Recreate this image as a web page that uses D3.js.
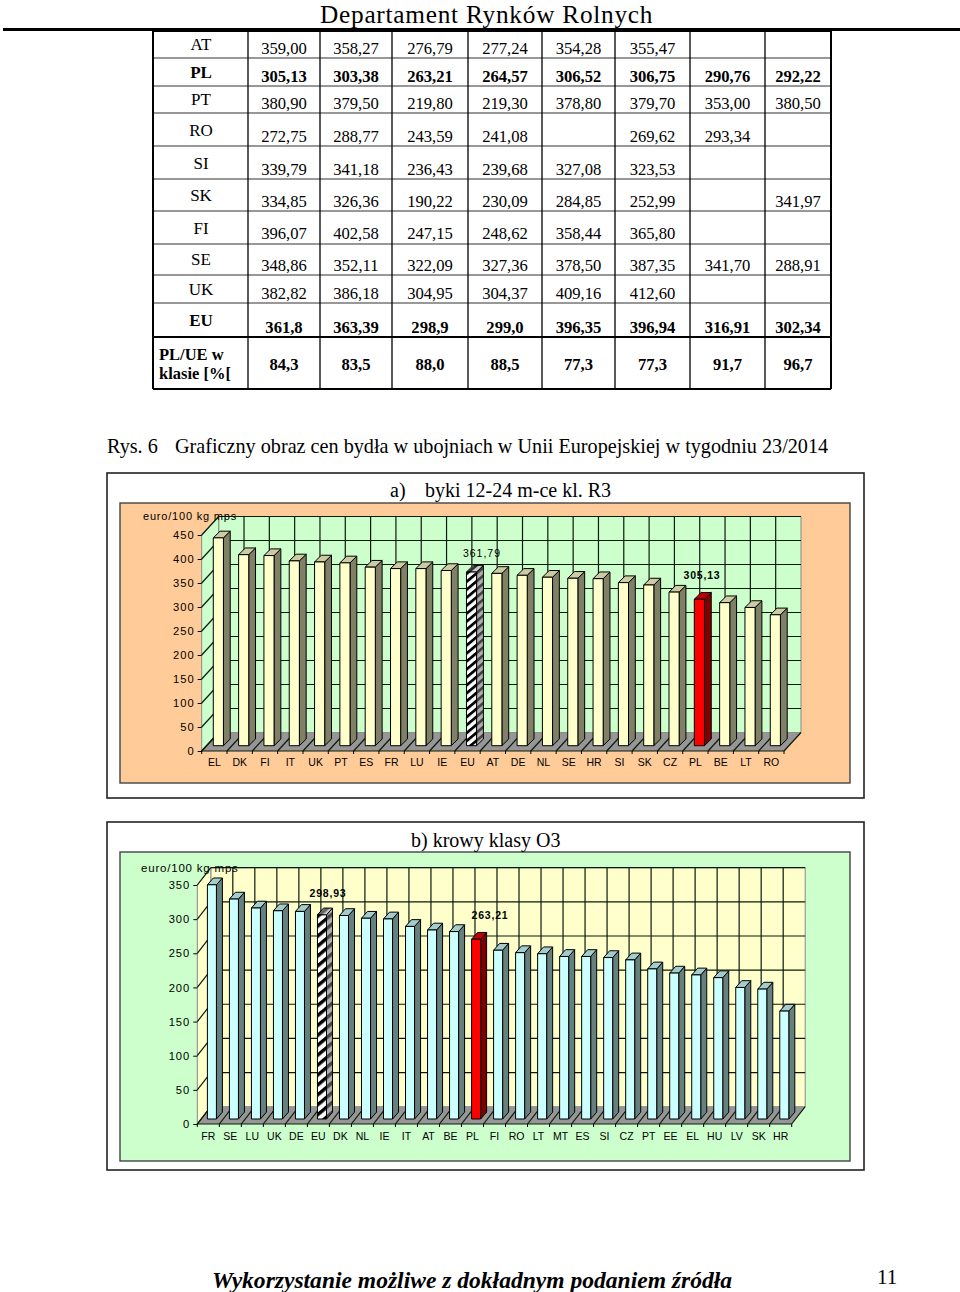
<!DOCTYPE html>
<html>
<head>
<meta charset="utf-8">
<script src="https://cdn.jsdelivr.net/npm/d3@7"></script>
<style>
  body { margin: 0; background: #fff; }
  svg { display: block; }
  text { fill: #000; }
  .serif { font-family: "Liberation Serif", serif; }
  .sans { font-family: "Liberation Sans", sans-serif; }
  .axis path { display: none; }
  .axis line { stroke: #000; }
</style>
</head>
<body>
<div id="page"></div>
<script>
// table data
var tableLabels = ['AT', 'PL', 'PT', 'RO', 'SI', 'SK', 'FI', 'SE', 'UK', 'EU'];
var tableValues = [
  ['359,00', '358,27', '276,79', '277,24', '354,28', '355,47', '', ''],
  ['305,13', '303,38', '263,21', '264,57', '306,52', '306,75', '290,76', '292,22'],
  ['380,90', '379,50', '219,80', '219,30', '378,80', '379,70', '353,00', '380,50'],
  ['272,75', '288,77', '243,59', '241,08', '', '269,62', '293,34', ''],
  ['339,79', '341,18', '236,43', '239,68', '327,08', '323,53', '', ''],
  ['334,85', '326,36', '190,22', '230,09', '284,85', '252,99', '', '341,97'],
  ['396,07', '402,58', '247,15', '248,62', '358,44', '365,80', '', ''],
  ['348,86', '352,11', '322,09', '327,36', '378,50', '387,35', '341,70', '288,91'],
  ['382,82', '386,18', '304,95', '304,37', '409,16', '412,60', '', ''],
  ['361,8', '363,39', '298,9', '299,0', '396,35', '396,94', '316,91', '302,34']
];
var ratioValues = ['84,3', '83,5', '88,0', '88,5', '77,3', '77,3', '91,7', '96,7'];
var boldRows = ['PL', 'EU'];

// chart a) byki
var bullCategories = ['EL', 'DK', 'FI', 'IT', 'UK', 'PT', 'ES', 'FR', 'LU', 'IE', 'EU', 'AT', 'DE', 'NL', 'SE', 'HR', 'SI', 'SK', 'CZ', 'PL', 'BE', 'LT', 'RO'];
var bullValues = [433, 398, 396.07, 385, 382.82, 380.9, 372, 369, 369, 365, 361.79, 359, 355, 351, 348.86, 348, 339.79, 334.85, 320, 305.13, 298, 288, 272.75];
var bullTicks = [0, 50, 100, 150, 200, 250, 300, 350, 400, 450];

// chart b) krowy
var cowCategories = ['FR', 'SE', 'LU', 'UK', 'DE', 'EU', 'DK', 'NL', 'IE', 'IT', 'AT', 'BE', 'PL', 'FI', 'RO', 'LT', 'MT', 'ES', 'SI', 'CZ', 'PT', 'EE', 'EL', 'HU', 'LV', 'SK', 'HR'];
var cowValues = [343, 322.09, 309, 304.95, 304, 298.93, 298, 294, 293, 282, 276.79, 274.5, 263.21, 247.15, 243.59, 242, 238, 238, 236.43, 233, 219.8, 213.7, 211, 207, 192.6, 190.22, 158];
var cowTicks = [0, 50, 100, 150, 200, 250, 300, 350];

var svg = d3.select('#page').append('svg')
  .attr('width', 960)
  .attr('height', 1292);

// hatch for the EU bars
var defs = svg.append('defs');
function hatch(id, bg, ink, period) {
  var p = defs.append('pattern')
    .attr('id', id)
    .attr('patternUnits', 'userSpaceOnUse')
    .attr('width', period)
    .attr('height', period)
    .attr('patternTransform', 'rotate(-40)');
  p.append('rect').attr('width', period).attr('height', period).attr('fill', bg);
  p.append('rect').attr('width', period).attr('height', period * 0.45).attr('fill', ink);
}
hatch('hatchFrontA', '#fff', '#000', 6.1);
hatch('hatchSideA', '#b0b0b0', '#444', 6.1);
hatch('hatchTopA', '#ccc', '#333', 6.1);
hatch('hatchFrontB', '#fff', '#000', 7.6);
hatch('hatchSideB', '#b0b0b0', '#444', 7.6);
hatch('hatchTopB', '#ccc', '#666', 7.6);

function label(str, x, y, size, cls, opts) {
  opts = opts || {};
  return svg.append('text')
    .attr('class', cls)
    .attr('x', x)
    .attr('y', y)
    .attr('font-size', size)
    .attr('font-weight', opts.weight || 'normal')
    .attr('font-style', opts.style || 'normal')
    .attr('text-anchor', opts.anchor || 'start')
    .attr('letter-spacing', opts.spacing || 0)
    .text(str);
}

// -----------------------------------
// page header, footer, captions
label('Departament Rynków Rolnych', 320, 22.5, 25.3, 'serif', { spacing: 0.75 });
svg.append('rect').attr('x', 3).attr('y', 28).attr('width', 957).attr('height', 3).attr('fill', '#000');
label('Rys. 6', 107, 453, 20.2, 'serif');
label('Graficzny obraz cen bydła w ubojniach w Unii Europejskiej w tygodniu 23/2014', 175, 453, 20.2, 'serif');
label('Wykorzystanie możliwe z dokładnym podaniem źródła', 212, 1288, 23.55, 'serif', { weight: 'bold', style: 'italic' });
label('11', 877, 1284, 21, 'serif');

// -----------------------------------
// table
var colLines = [153, 248, 320, 392, 468, 542, 615, 690, 765, 831];
var rowLines = [31, 58, 86, 113, 146, 179, 211, 244, 275, 303, 337, 389];
var labelY = [44, 72, 99, 130, 163, 195, 228, 259, 289, 320];
var valueY = [48, 76, 103, 136, 169, 201, 233, 265, 293, 327];
var table = svg.append('g').attr('class', 'table');

rowLines.forEach(function(y, i) {
  var outer = i === 0 || i === rowLines.length - 1 || i === rowLines.length - 2;
  table.append('line')
    .attr('x1', colLines[0]).attr('x2', colLines[colLines.length - 1])
    .attr('y1', y).attr('y2', y)
    .attr('stroke', outer ? '#000' : '#333')
    .attr('stroke-width', outer ? 2 : 1.2);
});
colLines.forEach(function(x, i) {
  var outer = i === 0 || i === colLines.length - 1;
  table.append('line')
    .attr('x1', x).attr('x2', x)
    .attr('y1', rowLines[0]).attr('y2', rowLines[rowLines.length - 1])
    .attr('stroke', '#000')
    .attr('stroke-width', outer ? 2 : 1.3);
});

function colCenter(i) { return (colLines[i + 1] + colLines[i + 2]) / 2; }

tableLabels.forEach(function(name, r) {
  var bold = boldRows.indexOf(name) >= 0 ? 'bold' : 'normal';
  label(name, 201, labelY[r] + 5.5, 17, 'serif', { anchor: 'middle', weight: bold });
  tableValues[r].forEach(function(v, c) {
    label(v, colCenter(c), valueY[r] + 5.5, 16.6, 'serif', { anchor: 'middle', weight: bold });
  });
});
label('PL/UE w', 159, 360, 16.5, 'serif', { weight: 'bold' });
label('klasie [%[', 159, 379, 16.5, 'serif', { weight: 'bold' });
ratioValues.forEach(function(v, c) {
  label(v, colCenter(c), 369.5, 16.6, 'serif', { anchor: 'middle', weight: 'bold' });
});

// -----------------------------------
// 3d column chart in the old Excel style
function columnChart(c) {
  var g = svg.append('g');

  // outer frame and panel
  g.append('rect').attr('x', c.frame[0]).attr('y', c.frame[1])
    .attr('width', c.frame[2] - c.frame[0]).attr('height', c.frame[3] - c.frame[1])
    .attr('fill', '#fff').attr('stroke', '#222').attr('stroke-width', 1.6);
  g.append('rect').attr('x', c.panel[0]).attr('y', c.panel[1])
    .attr('width', c.panel[2] - c.panel[0]).attr('height', c.panel[3] - c.panel[1])
    .attr('fill', c.panelFill).attr('stroke', '#444').attr('stroke-width', 1.4);

  var x = d3.scaleBand().domain(c.categories)
    .range([c.left, c.right])
    .paddingInner(c.padding)
    .paddingOuter(c.padding / 2);
  var y = d3.scaleLinear().domain([0, c.max]).range([c.bottom, c.top]);
  var step = x.step();
  var dx = c.depthX, dy = c.depthY;
  var topY = y(c.max), baseY = y(0);

  function poly(pts, fill, stroke, sw) {
    g.append('polygon')
      .attr('points', pts.map(function(p) { return p.join(','); }).join(' '))
      .attr('fill', fill)
      .attr('stroke', stroke || 'none')
      .attr('stroke-width', sw || 0);
  }

  // walls and floor
  poly([[c.left + dx, topY - dy], [c.right + dx, topY - dy], [c.right + dx, baseY - dy], [c.left + dx, baseY - dy]], c.wallFill, '#888', 1);
  poly([[c.left, topY], [c.left + dx, topY - dy], [c.left + dx, baseY - dy], [c.left, baseY]], c.wallFill, '#888', 1);
  poly([[c.left, baseY], [c.left + dx, baseY - dy], [c.right + dx, baseY - dy], [c.right, baseY]], '#969696');

  // grid
  var grid = g.append('g').attr('stroke', '#0c1a0c').attr('stroke-width', 1.2);
  c.ticks.forEach(function(t) {
    if (t > 0) {
      grid.append('line')
        .attr('x1', c.left + dx).attr('x2', c.right + dx)
        .attr('y1', y(t) - dy).attr('y2', y(t) - dy);
    }
    grid.append('line')
      .attr('x1', c.left).attr('x2', c.left + dx)
      .attr('y1', y(t)).attr('y2', y(t) - dy);
  });
  c.categories.forEach(function(d, i) {
    var bx = c.left + step * i;
    if (i > 0) {
      grid.append('line')
        .attr('x1', bx + dx).attr('x2', bx + dx)
        .attr('y1', topY - dy).attr('y2', baseY - dy);
    }
    grid.append('line')
      .attr('x1', bx).attr('x2', bx + dx)
      .attr('y1', baseY).attr('y2', baseY - dy);
  });
  grid.append('line')
    .attr('x1', c.right).attr('x2', c.right + dx)
    .attr('y1', baseY).attr('y2', baseY - dy);
  grid.append('line')
    .attr('x1', c.left).attr('x2', c.right)
    .attr('y1', baseY).attr('y2', baseY);

  // bars
  c.categories.forEach(function(d, i) {
    var v = c.values[i];
    var x0 = x(d) + c.barShiftX, x1 = x0 + x.bandwidth();
    var y0 = baseY - c.barShiftY, y1 = y(v) - c.barShiftY;
    var sx = c.barDepthX, sy = c.barDepthY;
    var front = c.barFill, side = c.barSide, top = c.barTop;
    if (d === 'PL') { front = '#ff0000'; side = '#800000'; top = '#c00000'; }
    if (d === 'EU') {
      front = 'url(#hatchFront' + c.id + ')';
      side = 'url(#hatchSide' + c.id + ')';
      top = 'url(#hatchTop' + c.id + ')';
    }
    poly([[x1, y0], [x1 + sx, y0 - sy], [x1 + sx, y1 - sy], [x1, y1]], side, '#000', 1);
    poly([[x0, y1], [x0 + sx, y1 - sy], [x1 + sx, y1 - sy], [x1, y1]], top, '#000', 1);
    poly([[x0, y0], [x1, y0], [x1, y1], [x0, y1]], front, '#000', 1);
  });

  // axes
  var yAxis = d3.axisLeft(y).tickValues(c.ticks).tickSize(4).tickPadding(3);
  var xAxis = d3.axisBottom(x).tickSize(0).tickPadding(c.xPad);
  g.append('g').attr('class', 'axis sans')
    .attr('transform', 'translate(' + c.left + ',0)')
    .call(yAxis)
    .selectAll('text')
    .attr('font-size', c.yFont)
    .attr('letter-spacing', c.ySpacing);
  g.append('g').attr('class', 'axis sans')
    .attr('transform', 'translate(0,' + baseY + ')')
    .call(xAxis)
    .selectAll('text')
    .attr('font-size', 10.5)
    .attr('letter-spacing', c.xSpacing);
  c.categories.forEach(function(d, i) {
    g.append('line')
      .attr('x1', c.left + step * i).attr('x2', c.left + step * i)
      .attr('y1', baseY).attr('y2', baseY + 3)
      .attr('stroke', '#000');
  });
  g.append('line')
    .attr('x1', c.right).attr('x2', c.right)
    .attr('y1', baseY).attr('y2', baseY + 3)
    .attr('stroke', '#000');
}

columnChart({
  id: 'A',
  frame: [107, 473, 864, 798],
  panel: [120, 503, 850, 783],
  panelFill: '#ffcc99',
  wallFill: '#ccffcc',
  barFill: '#ffffcc',
  barSide: '#808066',
  barTop: '#cccca3',
  categories: bullCategories,
  values: bullValues,
  ticks: bullTicks,
  max: 450,
  left: 201.7, right: 784, top: 535, bottom: 751,
  depthX: 17, depthY: 18.5,
  padding: 0.6,
  barShiftX: 4, barShiftY: 5.3,
  barDepthX: 6.8, barDepthY: 6.7,
  yFont: 11.2, ySpacing: 1, xPad: 7.5, xSpacing: 0
});
label('a)', 390, 497, 20, 'serif');
label('byki 12-24 m-ce kl. R3', 425, 497, 20, 'serif');
label('euro/100 kg mps', 143, 520, 11, 'sans', { spacing: 0.8 });
label('361,79', 482, 557, 10.5, 'sans', { anchor: 'middle', spacing: 1 });
label('305,13', 702, 579, 10.5, 'sans', { anchor: 'middle', spacing: 0.8, weight: 'bold' });

columnChart({
  id: 'B',
  frame: [107, 822, 864, 1170],
  panel: [120, 852, 850, 1161],
  panelFill: '#ccffcc',
  wallFill: '#ffffcc',
  barFill: '#ccffff',
  barSide: '#668080',
  barTop: '#a3cccc',
  categories: cowCategories,
  values: cowValues,
  ticks: cowTicks,
  max: 350,
  left: 197.3, right: 791.7, top: 885, bottom: 1124,
  depthX: 13.5, depthY: 17.3,
  padding: 0.59,
  barShiftX: 3.6, barShiftY: 5,
  barDepthX: 6, barDepthY: 6.8,
  yFont: 11.2, ySpacing: 1, xPad: 9, xSpacing: 0
});
label('b) krowy klasy O3', 411, 847, 20, 'serif');
label('euro/100 kg mps', 141, 872, 11.5, 'sans', { spacing: 0.8 });
label('298,93', 328, 897, 10.5, 'sans', { anchor: 'middle', spacing: 0.8, weight: 'bold' });
label('263,21', 490, 919, 10.5, 'sans', { anchor: 'middle', spacing: 0.8, weight: 'bold' });
</script>
</body>
</html>
